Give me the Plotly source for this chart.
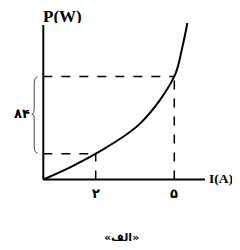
import plotly.graph_objects as go

# Curve data
current_a = [0, 1, 2, 3.7, 5, 5.3, 5.5]
power_w = [0, 13, 28, 61, 112, 143, 170]

# Marked points
mark_i = [2, 5]
mark_p = [28, 112]
mark_labels = ["۲", "۵"]
delta_label = "۸۴"
x_title = "I(A)"
y_title = "P(W)"
caption = "«الف»"

# scale / placement (reference pixels); page body adds an 8px offset
OFF = 8
W, H = 232, 234
x0_px, y0_px = 43.3, 179.5
px_per_i = 26.2
p_per_px = 84 / 77.3
x_range = [-(x0_px - OFF) / px_per_i, (W - (x0_px - OFF)) / px_per_i]
y_range = [-(H - (y0_px - OFF)) * p_per_px, (y0_px - OFF) * p_per_px]


def dx(px):
    return (px - x0_px) / px_per_i


def dy(py):
    return (y0_px - py) * p_per_px


x_axis_end = dx(205)
y_axis_end = dy(25)

fig = go.Figure()
fig.add_trace(go.Scatter(x=current_a, y=power_w, mode="lines",
                         line=dict(color="black", width=2, shape="spline", smoothing=1.0),
                         hoverinfo="skip", showlegend=False))

shapes = []
shapes.append(dict(type="line", x0=0, y0=0, x1=x_axis_end, y1=0, line=dict(color="black", width=2)))
shapes.append(dict(type="line", x0=0, y0=0, x1=0, y1=y_axis_end, line=dict(color="black", width=2)))
for xi, pi in zip(mark_i, mark_p):
    shapes.append(dict(type="line", x0=0, y0=pi, x1=xi, y1=pi, line=dict(color="black", width=1.5, dash="dash")))
    shapes.append(dict(type="line", x0=xi, y0=0, x1=xi, y1=pi, line=dict(color="black", width=1.5, dash="dash")))
top, bot, mid = dy(77), dy(153), dy(114)
xe, xb, xt = dx(37.5), dx(34.2), dx(31.8)
path = (f"M {xe},{top} Q {xb},{top} {xb},{dy(84)} "
        f"L {xb},{dy(108)} Q {xb},{mid} {xt},{mid} "
        f"Q {xb},{mid} {xb},{dy(120)} "
        f"L {xb},{dy(146)} Q {xb},{bot} {xe},{bot}")
shapes.append(dict(type="path", path=path, line=dict(color="#333333", width=0.9)))

ann = []
ann.append(dict(x=dx(62), y=dy(15.5), text=f"<b>{y_title}</b>", showarrow=False,
                height=14, borderpad=0, valign="middle",
                font=dict(family="Liberation Serif", size=17, color="black")))
ann.append(dict(x=dx(207.5), y=dy(178.5), text=f"<b>{x_title}</b>", showarrow=False, xanchor="left",
                borderpad=0, font=dict(family="Liberation Serif", size=13.5, color="black")))
for xi, lab in zip(mark_i, mark_labels):
    ann.append(dict(x=xi, y=dy(193.5), text=f"<b>{lab}</b>", showarrow=False,
                    font=dict(family="DejaVu Sans", size=13, color="black")))
ann.append(dict(x=dx(22), y=dy(113), text=f"<b>{delta_label}</b>", showarrow=False,
                font=dict(family="DejaVu Sans", size=13, color="black")))
ann.append(dict(x=dx(121.5), y=dy(237), text=f"<b>{caption}</b>", showarrow=False,
                height=10, borderpad=0, valign="middle",
                font=dict(family="DejaVu Sans", size=11, color="black")))

fig.update_layout(width=W, height=H, margin=dict(l=0, r=0, t=0, b=0),
                  paper_bgcolor="white", plot_bgcolor="white",
                  xaxis=dict(range=x_range, visible=False, fixedrange=True),
                  yaxis=dict(range=y_range, visible=False, fixedrange=True),
                  shapes=shapes, annotations=ann)
fig.write_html("out.html")
